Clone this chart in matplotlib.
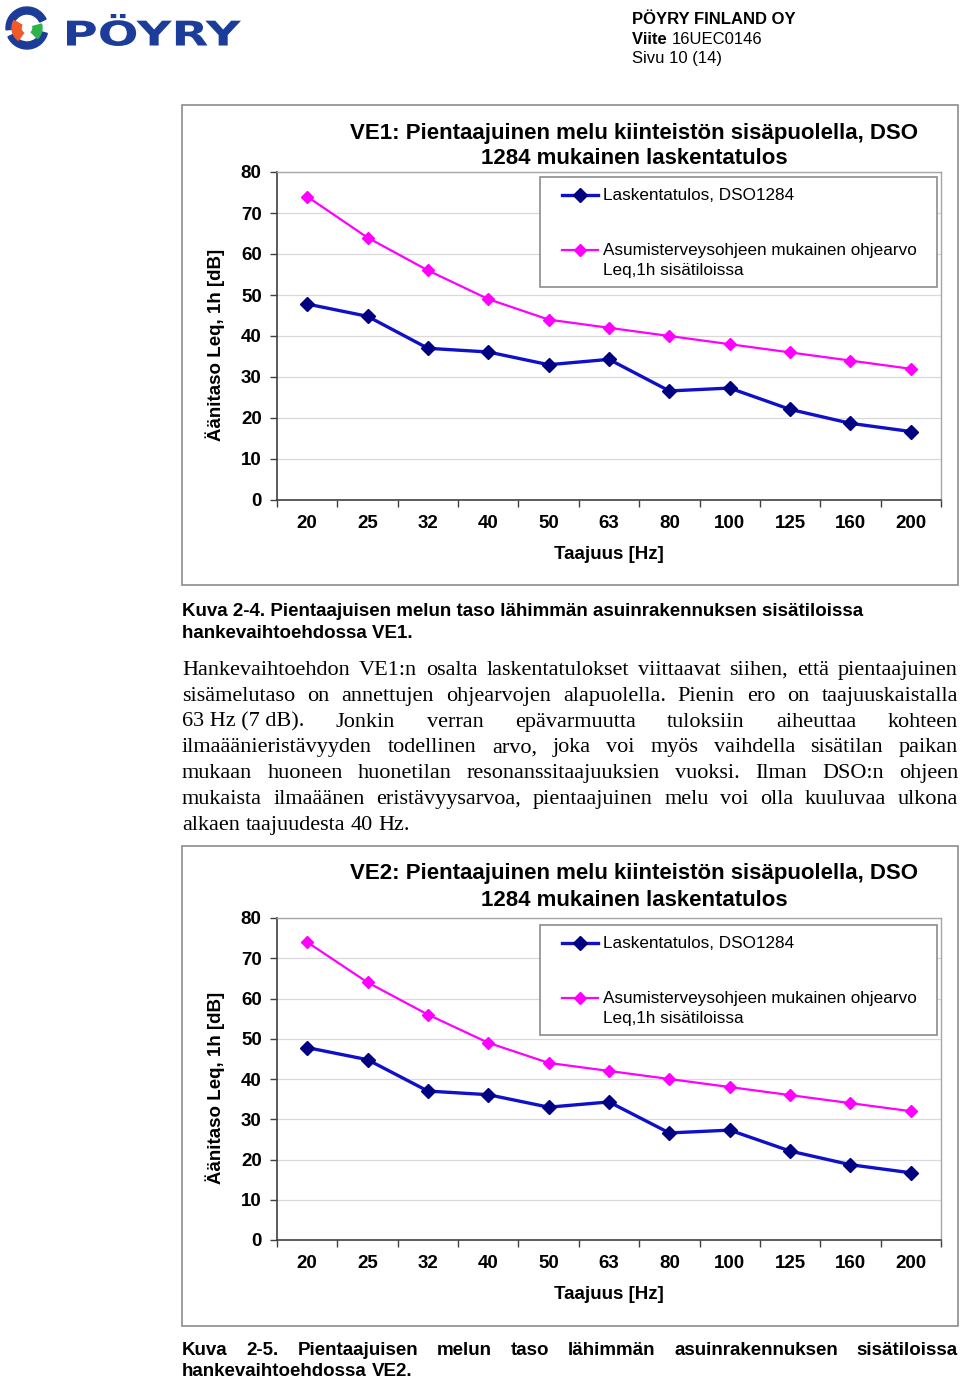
import numpy as np
import matplotlib
matplotlib.use("Agg")
import matplotlib.pyplot as plt
from matplotlib.patches import Rectangle, Wedge, PathPatch
from matplotlib.lines import Line2D
from matplotlib.textpath import TextPath
from matplotlib.font_manager import FontProperties
from matplotlib.transforms import Affine2D

W, H = 960, 1379

# Chart data
freqs = ['20', '25', '32', '40', '50', '63', '80', '100', '125', '160', '200']
ve1_calc = [47.8, 44.8, 37.0, 36.1, 33.0, 34.3, 26.6, 27.3, 22.1, 18.7, 16.7]
ve2_calc = [47.8, 44.8, 37.0, 36.1, 33.0, 34.3, 26.6, 27.3, 22.1, 18.7, 16.7]
ohjearvo = [74, 64, 56, 49, 44, 42, 40, 38, 36, 34, 32]
y_ticks = [0, 10, 20, 30, 40, 50, 60, 70, 80]

label_calc = 'Laskentatulos, DSO1284'
label_ohje = ['Asumisterveysohjeen mukainen ohjearvo', 'Leq,1h sisätiloissa']

paragraph = [
    "Hankevaihtoehdon VE1:n osalta laskentatulokset viittaavat siihen, että pientaajuinen",
    "sisämelutaso on annettujen ohjearvojen alapuolella. Pienin ero on taajuuskaistalla",
    "63\u00a0Hz\u00a0(7\u00a0dB). Jonkin verran epävarmuutta tuloksiin aiheuttaa kohteen",
    "ilmaäänieristävyyden todellinen arvo, joka voi myös vaihdella sisätilan paikan",
    "mukaan huoneen huonetilan resonanssitaajuuksien vuoksi. Ilman DSO:n ohjeen",
    "mukaista ilmaäänen eristävyysarvoa, pientaajuinen melu voi olla kuuluvaa ulkona",
    "alkaen taajuudesta 40 Hz.",
]

BLUE_LINE = '#1010C8'
BLUE_MARK = '#000080'
PINK = '#FF00FF'
LOGO_BLUE = '#1B3C99'

plt.rcParams['font.family'] = ['Liberation Sans', 'DejaVu Sans']

fig = plt.figure(figsize=(W / 100, H / 100), dpi=100)


def fx(x):
    return x / W


def fy(y):
    return 1 - y / H


def ptext(x, y, s, **kw):
    return fig.text(fx(x), fy(y), s, **kw)


def justified(lines, x0, x1, y, dy, **kw):
    r = fig.canvas.get_renderer()
    for i, line in enumerate(lines):
        words = line.split(' ')
        yy = y + i * dy
        arts = [ptext(0, yy, w, va='baseline', **kw) for w in words]
        widths = [a.get_window_extent(r).width for a in arts]
        if i == len(lines) - 1 or len(words) == 1:
            gap = kw.get('fontsize', 12) * 100 / 72 * 0.25
        else:
            gap = (x1 - x0 - sum(widths)) / (len(words) - 1)
        x = x0
        for a, w in zip(arts, widths):
            a.set_x(fx(x))
            x += w + gap


def draw_chart(top, y80, y0, leg_top, title, calc):
    # outer chart frame
    fig.add_artist(Rectangle((fx(182), fy(top + 480)), (958 - 182) / W, 480 / H,
                             transform=fig.transFigure, fill=False, ec='#8C8C8C', lw=1.2))
    ax = fig.add_axes([fx(277), fy(y0), (941 - 277) / W, (y0 - y80) / H])
    x = np.arange(len(freqs))
    ax.plot(x, ohjearvo, color=PINK, lw=1.6, marker='D', ms=6.5, mfc=PINK, mec=PINK)
    ax.plot(x, calc, color=BLUE_LINE, lw=2.4, marker='D', ms=7.5, mfc=BLUE_MARK, mec=BLUE_MARK)
    ax.set_xlim(-0.5, len(freqs) - 0.5)
    ax.set_ylim(0, 80)
    ax.set_yticks(y_ticks)
    ax.grid(axis='y', color='#D9D9D9', lw=0.9)
    ax.set_axisbelow(True)
    ax.set_xticks(x)
    ax.set_xticklabels(freqs)
    ax.set_xticks(np.arange(-0.5, len(freqs)), minor=True)
    ax.tick_params(axis='x', which='major', length=0, pad=10.5)
    ax.tick_params(axis='x', which='minor', length=5, width=1, color='#404040', direction='out')
    ax.tick_params(axis='y', length=5, width=1, color='#404040', direction='out', pad=6)
    for lab in ax.get_xticklabels() + ax.get_yticklabels():
        lab.set_fontsize(13.5)
        lab.set_fontweight('bold')
    for s in ['left', 'bottom']:
        ax.spines[s].set_color('#404040')
        ax.spines[s].set_linewidth(1.2)
    for s in ['top', 'right']:
        ax.spines[s].set_color('#A6A6A6')
        ax.spines[s].set_linewidth(1)
    ax.set_xlabel('Taajuus [Hz]', fontsize=13.5, fontweight='bold', labelpad=10.5)
    ax.set_ylabel('Äänitaso Leq, 1h [dB]', fontsize=13.5, fontweight='bold')
    ax.yaxis.set_label_coords((225 - 277) / 664, (y0 - (y80 + y0) / 2 - 9) / (y0 - y80))

    # title, two centred lines
    ptext(634, top + 28, title[0], ha='center', va='center', fontsize=16, fontweight='bold')
    ptext(634, top + 54, title[1], ha='center', va='center', fontsize=16, fontweight='bold')

    # legend box
    fig.add_artist(Rectangle((fx(540), fy(leg_top + 110)), (937 - 540) / W, 110 / H,
                             transform=fig.transFigure, fill=True, fc='white',
                             ec='#8C8C8C', lw=1.2))
    for yy, col, mcol, lw, ms in [(leg_top + 18, BLUE_LINE, BLUE_MARK, 2.4, 7.5),
                                  (leg_top + 73, PINK, PINK, 1.6, 6.5)]:
        fig.add_artist(Line2D([fx(562), fx(598)], [fy(yy), fy(yy)], color=col, lw=lw))
        fig.add_artist(Line2D([fx(580)], [fy(yy)], marker='D', ms=ms, mfc=mcol, mec=mcol))
    ptext(603, leg_top + 19, label_calc, va='center', fontsize=12.3)
    ptext(603, leg_top + 74, label_ohje[0], va='center', fontsize=12.3)
    ptext(603, leg_top + 93, label_ohje[1], va='center', fontsize=12.3)


def draw_logo():
    lax = fig.add_axes([0, fy(60), 250 / W, 60 / H])
    lax.set_xlim(0, 250)
    lax.set_ylim(0, 60)
    lax.axis('off')
    c = (27, 32)
    lax.add_patch(Wedge(c, 21, 25, 185, width=7, color=LOGO_BLUE))
    lax.add_patch(Wedge(c, 21, 205, 345, width=7, color=LOGO_BLUE))
    lax.add_patch(Wedge(c, 15, 150, 235, width=9, color='#F05A28'))
    lax.add_patch(Wedge(c, 15, -45, 15, width=9, color='#2DB34A'))
    # wide, heavy wordmark: stretch a text path into its box
    tp = TextPath((0, 0), 'PÖYRY', size=30,
                  prop=FontProperties(family='DejaVu Sans', weight='bold'))
    ext = tp.get_extents()
    sx = (241 - 67) / ext.width
    sy = (46 - 14) / ext.height
    tr = Affine2D().translate(-ext.x0, -ext.y0).scale(sx, sy).translate(67, 14)
    lax.add_patch(PathPatch(tr.transform_path(tp), fc=LOGO_BLUE, ec='none'))


def main():
    draw_logo()

    # header block
    ptext(632, 24, 'PÖYRY FINLAND OY', fontsize=12, fontweight='bold', va='baseline')
    t = ptext(632, 44, 'Viite ', fontsize=12, fontweight='bold', va='baseline')
    wv = t.get_window_extent(fig.canvas.get_renderer()).width
    ptext(632 + wv, 44, '16UEC0146', fontsize=12, va='baseline')
    ptext(632, 63, 'Sivu 10 (14)', fontsize=12, va='baseline')

    draw_chart(105, 172, 500, 177,
               ['VE1: Pientaajuinen melu kiinteistön sisäpuolella, DSO',
                '1284 mukainen laskentatulos'], ve1_calc)

    ptext(182, 616, 'Kuva 2-4. Pientaajuisen melun taso lähimmän asuinrakennuksen sisätiloissa',
          fontsize=13.5, fontweight='bold', va='baseline')
    ptext(182, 638, 'hankevaihtoehdossa VE1.', fontsize=13.5, fontweight='bold', va='baseline')

    justified(paragraph, 182, 958, 675, 25.8, fontsize=16, family='Liberation Serif')

    draw_chart(846, 918, 1240, 925,
               ['VE2: Pientaajuinen melu kiinteistön sisäpuolella, DSO',
                '1284 mukainen laskentatulos'], ve2_calc)

    justified(['Kuva 2-5. Pientaajuisen melun taso lähimmän asuinrakennuksen sisätiloissa',
               'hankevaihtoehdossa VE2.'], 182, 958, 1355, 21.5,
              fontsize=13.5, fontweight='bold')

    fig.savefig('out.png', dpi=100)


if __name__ == "__main__":
    main()
